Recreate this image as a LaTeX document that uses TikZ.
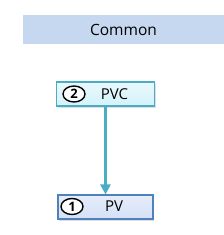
\documentclass[tikz,border=0pt]{standalone}
\usepackage{fontspec}
\setmainfont{Open Sans}
\usepackage{xcolor}
\usetikzlibrary{arrows.meta,positioning,shapes.geometric,shadows}
\definecolor{bandblue}{HTML}{C6D8F0}
\definecolor{tealline}{HTML}{4BACC6}
\definecolor{tealfill}{HTML}{D3F2FA}
\definecolor{blueline}{HTML}{4F81BD}
\definecolor{bluefill}{HTML}{D5E1F7}
\tikzset{
  pvbox/.style={
    draw,
    line width=1.1pt,
    minimum width=96pt,
    minimum height=24pt,
    inner sep=0pt,
    drop shadow={shadow xshift=1pt, shadow yshift=-1.5pt, opacity=0.25}
  },
  pvcbox/.style={pvbox, draw=tealline, top color=tealfill!50!white, bottom color=tealfill},
  plainbox/.style={pvbox, draw=blueline, top color=bluefill!60!white, bottom color=bluefill},
  numtag/.style={
    draw,
    ellipse,
    line width=1.4pt,
    fill=white,
    minimum width=22pt,
    minimum height=16pt,
    inner sep=0pt,
    font=\fontsize{13}{13}\selectfont\bfseries
  },
  boxtext/.style={font=\fontsize{15}{15}\selectfont},
  link/.style={-{Triangle[length=10pt,width=10pt]}, line width=3pt, draw=tealline}
}
\begin{document}
\begin{tikzpicture}[x=1pt,y=-1pt]
\useasboundingbox (0,0) rectangle (224,235);
\fill[white] (0,0) rectangle (224,235);

% top band
\node[fill=bandblue, minimum width=201pt, minimum height=29pt, inner sep=0pt,
      font=\fontsize{15.5}{15.5}\selectfont] (common) at (123.5,29.5) {Common};

% boxes
\node[pvcbox, minimum width=98pt] (pvc) at (105.5,94) {};
\node[plainbox, minimum width=95pt] (pv) at (105.5,207) {};

\node[numtag] (pvcnum) at (74,94) {2};
\node[boxtext] (pvctext) at (114.5,94) {PVC};
\node[numtag] (pvnum) at (72,206.5) {1};
\node[boxtext] (pvtext) at (114,206.5) {PV};

\draw[link] (pvc.south) -- (pv.north);
\end{tikzpicture}
\end{document}
